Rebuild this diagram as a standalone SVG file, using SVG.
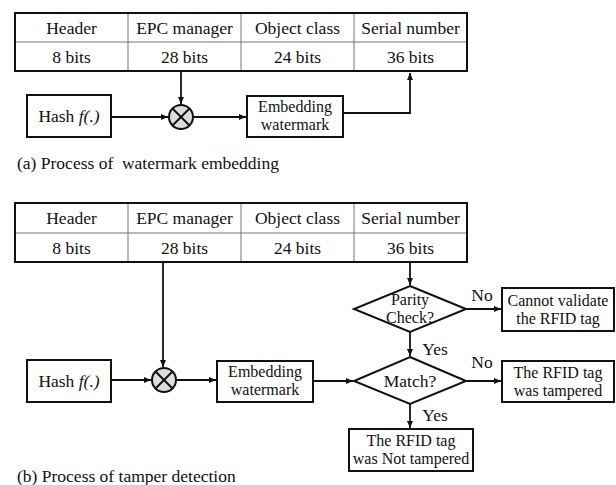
<svg xmlns="http://www.w3.org/2000/svg" width="616" height="485" viewBox="0 0 616 485">
<style>
text{font-family:"Liberation Serif","Times New Roman",serif;fill:#111;font-size:17.5px;text-anchor:middle}
.cap{text-anchor:start}
.sm{font-size:16px}
.two{font-size:16px}
.box{fill:#fff;stroke:#111;stroke-width:2}
.outer{fill:none;stroke:#111;stroke-width:2}
.inner{stroke:#777;stroke-width:1}
.conn{fill:none;stroke:#111;stroke-width:1.8}
.mul{fill:#ddd;stroke:#111;stroke-width:2}
.x{stroke:#111;stroke-width:2}
</style>
<defs>
<marker id="ah" markerUnits="userSpaceOnUse" markerWidth="8" markerHeight="7" refX="7" refY="3" orient="auto">
<path d="M0,0 L7,3 L0,6 z" fill="#111"/>
</marker>
</defs>
<rect width="616" height="485" fill="#fff"/>

<!-- (a) -->
<g id="table-a">
<line class="inner" x1="15" y1="42" x2="467" y2="42"/>
<line class="inner" x1="128" y1="13" x2="128" y2="71"/>
<line class="inner" x1="241" y1="13" x2="241" y2="71"/>
<line class="inner" x1="354" y1="13" x2="354" y2="71"/>
<rect class="outer" x="15" y="13" width="452" height="58"/>
<text x="71.5" y="34">Header</text>
<text x="184.5" y="34">EPC manager</text>
<text x="297.5" y="34">Object class</text>
<text x="410.5" y="34">Serial number</text>
<text x="71.5" y="63">8 bits</text>
<text x="184.5" y="63">28 bits</text>
<text x="297.5" y="63">24 bits</text>
<text x="410.5" y="63">36 bits</text>
</g>
<g id="hash-a">
<rect class="box" x="27" y="95" width="84" height="42"/>
<text x="69" y="122">Hash <tspan font-style="italic">f(.)</tspan></text>
</g>
<g id="mul-a">
<circle class="mul" cx="181" cy="117" r="12"/>
<line class="x" x1="172.5" y1="108.5" x2="189.5" y2="125.5"/>
<line class="x" x1="189.5" y1="108.5" x2="172.5" y2="125.5"/>
</g>
<g id="embed-a">
<rect class="box" x="247" y="96" width="96" height="41"/>
<text class="two" x="295" y="112">Embedding</text>
<text class="two" x="295" y="130">watermark</text>
</g>
<text class="cap" x="17" y="169">(a) Process of&#160; watermark embedding</text>

<!-- (b) -->
<g id="table-b">
<line class="inner" x1="15" y1="233" x2="467" y2="233"/>
<line class="inner" x1="128" y1="203" x2="128" y2="262"/>
<line class="inner" x1="241" y1="203" x2="241" y2="262"/>
<line class="inner" x1="354" y1="203" x2="354" y2="262"/>
<rect class="outer" x="15" y="203" width="452" height="59"/>
<text x="71.5" y="224">Header</text>
<text x="184.5" y="224">EPC manager</text>
<text x="297.5" y="224">Object class</text>
<text x="410.5" y="224">Serial number</text>
<text x="71.5" y="254">8 bits</text>
<text x="184.5" y="254">28 bits</text>
<text x="297.5" y="254">24 bits</text>
<text x="410.5" y="254">36 bits</text>
</g>
<g id="hash-b">
<rect class="box" x="27" y="360" width="84" height="42"/>
<text x="69" y="387">Hash <tspan font-style="italic">f(.)</tspan></text>
</g>
<g id="mul-b">
<circle class="mul" cx="164" cy="380" r="12"/>
<line class="x" x1="155.5" y1="371.5" x2="172.5" y2="388.5"/>
<line class="x" x1="172.5" y1="371.5" x2="155.5" y2="388.5"/>
</g>
<g id="embed-b">
<rect class="box" x="217" y="361" width="96" height="41"/>
<text class="two" x="265" y="377">Embedding</text>
<text class="two" x="265" y="395">watermark</text>
</g>
<g id="parity">
<polygon class="box" points="410,286 466,309 410,332 354,309"/>
<text class="two" x="410" y="305">Parity</text>
<text class="two" x="410" y="323">Check?</text>
</g>
<g id="match">
<polygon class="box" points="410,357 466,381 410,404 354,381"/>
<text x="410" y="387">Match?</text>
</g>
<g id="cannot">
<rect class="box" x="502" y="288" width="112" height="43"/>
<text class="sm" x="558" y="306">Cannot validate</text>
<text class="sm" x="558" y="324">the RFID tag</text>
</g>
<g id="tampered">
<rect class="box" x="502" y="361" width="112" height="41"/>
<text class="sm" x="558" y="378">The RFID tag</text>
<text class="sm" x="558" y="396">was tampered</text>
</g>
<g id="not-tampered">
<rect class="box" x="349" y="429" width="124" height="42"/>
<text class="sm" x="411" y="446">The RFID tag</text>
<text class="sm" x="411" y="464">was Not tampered</text>
</g>
<text class="cap" x="17" y="482">(b) Process of tamper detection</text>

<g id="connectors">
<line class="conn" x1="181" y1="72" x2="181" y2="104" marker-end="url(#ah)"/>
<line class="conn" x1="112" y1="117" x2="168" y2="117" marker-end="url(#ah)"/>
<line class="conn" x1="194" y1="117" x2="246" y2="117" marker-end="url(#ah)"/>
<polyline class="conn" points="344,113 410,113 410,73" marker-end="url(#ah)"/>

<line class="conn" x1="163" y1="263" x2="163" y2="367" marker-end="url(#ah)"/>
<line class="conn" x1="112" y1="380" x2="151" y2="380" marker-end="url(#ah)"/>
<line class="conn" x1="177" y1="380" x2="216" y2="380" marker-end="url(#ah)"/>
<line class="conn" x1="314" y1="381" x2="353" y2="381" marker-end="url(#ah)"/>
<line class="conn" x1="410" y1="263" x2="410" y2="285" marker-end="url(#ah)"/>
<line class="conn" x1="466" y1="309" x2="501" y2="309" marker-end="url(#ah)"/>
<line class="conn" x1="410" y1="332" x2="410" y2="356" marker-end="url(#ah)"/>
<line class="conn" x1="466" y1="381" x2="501" y2="381" marker-end="url(#ah)"/>
<line class="conn" x1="410" y1="404" x2="410" y2="428" marker-end="url(#ah)"/>
<text x="482" y="301">No</text>
<text x="435" y="355">Yes</text>
<text x="482" y="368">No</text>
<text x="435" y="421">Yes</text>
</g>
</svg>
